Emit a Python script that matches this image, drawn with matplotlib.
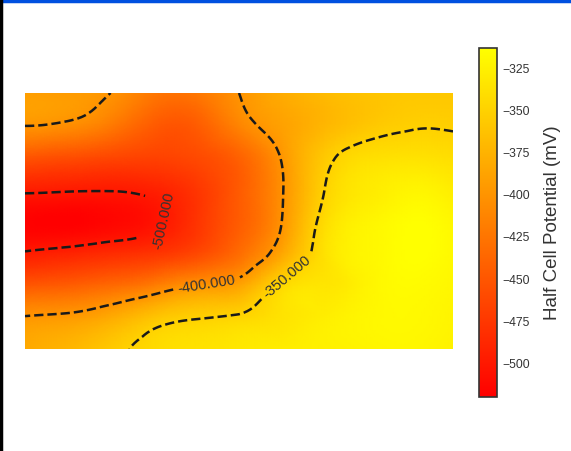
import numpy as np
import matplotlib
matplotlib.use("Agg")
import matplotlib.pyplot as plt
import matplotlib.tri as mtri
from matplotlib.lines import Line2D

plt.rcParams["font.family"] = ["Liberation Sans", "DejaVu Sans"]

# Survey grid positions (columns left->right, rows bottom->top)
x_pos = np.arange(11)
y_pos = np.arange(9)

# Half cell potential readings (mV), one list per grid row from the top edge down
potential = [
    [-392, -394, -400, -422, -422, -400, -380, -368, -361, -358, -358],
    [-399, -404, -420, -445, -445, -412, -389, -372, -359, -352, -352],
    [-450, -456, -462, -466, -460, -440, -398, -357, -340, -337, -340],
    [-495, -497, -498, -493, -476, -446, -402, -350, -330, -322, -328],
    [-518, -520, -515, -505, -478, -445, -400, -342, -322, -314, -320],
    [-498, -492, -485, -478, -462, -432, -385, -337, -320, -313, -318],
    [-450, -445, -435, -420, -401, -388, -345, -334, -322, -316, -320],
    [-399, -395, -382, -362, -352, -347, -336, -327, -320, -318, -322],
    [-383, -373, -357, -343, -337, -332, -328, -325, -322, -320, -324],
]

contour_levels = [-500, -400, -350]
label_spots = [(3.3, 4.0), (4.25, 2.0), (6.2, 2.1)]
cbar_ticks = [-325, -350, -375, -400, -425, -450, -475, -500]

z = np.array(potential, dtype=float)
xx, yy = np.meshgrid(x_pos, y_pos[::-1])

fig = plt.figure(figsize=(5.71, 4.51), dpi=100)
ax = fig.add_axes([0.0438, 0.2262, 0.7496, 0.5676])
cax = fig.add_axes([0.8389, 0.1197, 0.0315, 0.7738])

# smooth the coarse survey grid with a cubic refinement
triang = mtri.Triangulation(xx.ravel(), yy.ravel())
refiner = mtri.UniformTriRefiner(triang)
tri_ref, z_ref = refiner.refine_field(z.ravel(), subdiv=4)

mesh = ax.tripcolor(tri_ref, z_ref, shading="gouraud", cmap="autumn",
                    vmin=z.min(), vmax=z.max())
cs = ax.tricontour(tri_ref, z_ref, levels=contour_levels, colors="#1a1a1a",
                   linestyles="--", linewidths=1.8)
ax.clabel(cs, fmt="%1.3f", fontsize=10.5, colors="#333333", manual=label_spots)
ax.set_xlim(x_pos[0], x_pos[-1])
ax.set_ylim(y_pos[0], y_pos[-1])
ax.axis("off")

cbar = fig.colorbar(mesh, cax=cax)
cbar.set_ticks(cbar_ticks)
cbar.ax.tick_params(length=0, labelsize=8.7, labelcolor="#333333", pad=4)
cbar.outline.set_edgecolor("#333333")
cbar.outline.set_linewidth(1.2)
cbar.set_label("Half Cell Potential (mV)", fontsize=13.5, color="#333333",
               labelpad=10)

# window frame edges
fig.add_artist(Line2D([0, 1], [0.997, 0.997], color="#0050e0", lw=2.5))
fig.add_artist(Line2D([0.002, 0.002], [0, 1], color="black", lw=2.5))

fig.savefig("out.png", dpi=100)
